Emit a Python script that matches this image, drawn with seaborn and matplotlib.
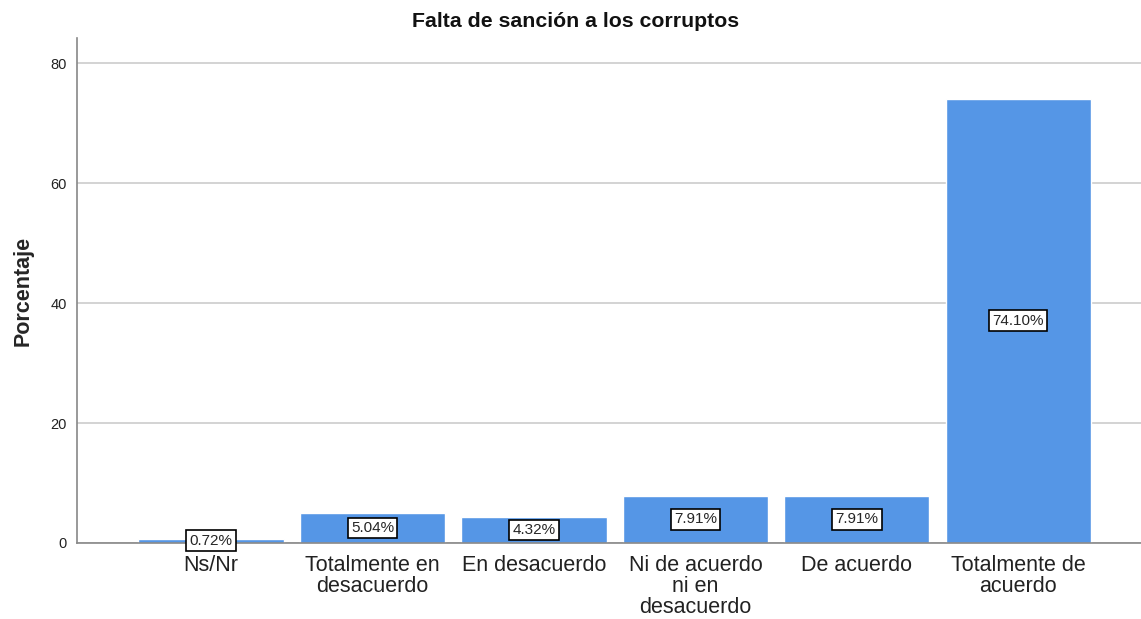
import matplotlib
matplotlib.use('Agg')
import matplotlib.pyplot as plt
import seaborn as sns
import pandas as pd

categories = ['Ns/Nr', 'Totalmente en\ndesacuerdo', 'En desacuerdo',
              'Ni de acuerdo\nni en\ndesacuerdo', 'De acuerdo', 'Totalmente de\nacuerdo']
percentages = [0.72, 5.04, 4.32, 7.91, 7.91, 74.10]
value_labels = ['0.72%', '5.04%', '4.32%', '7.91%', '7.91%', '74.10%']

sns.set_style('white')
plt.rcParams['font.family'] = ['Liberation Sans', 'DejaVu Sans']

df = pd.DataFrame({'cat': categories, 'pct': percentages})

fig = plt.figure(figsize=(11.41, 6.19), dpi=100)
ax = fig.add_axes([0.0675, 0.1228, 0.9325, 0.8158])

sns.barplot(data=df, x='cat', y='pct', color='#5596E6', saturation=1,
            width=0.9, ax=ax, zorder=2)

ax.set_ylim(0, 84.2)
ax.set_xlim(-0.83, 5.76)
ax.set_yticks([0, 20, 40, 60, 80])
ax.yaxis.grid(True, color='#cccccc', linewidth=1.2, zorder=0)
ax.set_axisbelow(True)

for s in ['top', 'right']:
    ax.spines[s].set_visible(False)
ax.spines['left'].set_color('#888888')
ax.spines['bottom'].set_color('#888888')
ax.spines['left'].set_linewidth(1.2)
ax.spines['bottom'].set_linewidth(1.2)

ax.tick_params(axis='x', length=0, labelsize=15.5, pad=9, colors='#222222')
ax.tick_params(axis='y', length=4, labelsize=10.5, colors='#222222', width=1)
for t in ax.get_xticklabels():
    t.set_linespacing(0.97)
ax.set_xlabel('')
ax.set_ylabel('Porcentaje', fontsize=15.5, fontweight='bold', labelpad=12)
fig.text(0.504, 0.966, 'Falta de sanción a los corruptos', ha='center', va='center',
         fontsize=15.3, fontweight='bold', color='#111111')

for i, (v, lab) in enumerate(zip(percentages, value_labels)):
    ax.text(i, v / 2, lab, ha='center', va='center', fontsize=11, zorder=5,
            bbox=dict(boxstyle='square,pad=0.22', facecolor='white', edgecolor='black', linewidth=1.2))

fig.savefig('out.png', dpi=100)
